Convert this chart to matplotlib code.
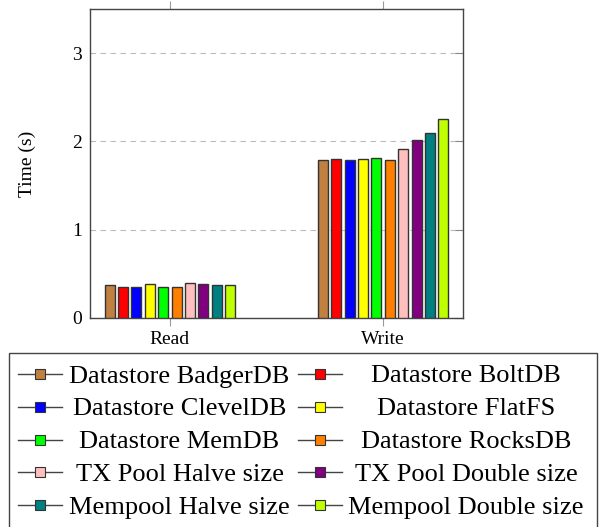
import matplotlib.pyplot as plt
import numpy as np
from matplotlib.lines import Line2D
from matplotlib.patches import Rectangle

plt.rcParams['font.family'] = ['Liberation Serif', 'DejaVu Serif']

# data
groups = ['Read', 'Write']
series = ['Datastore BadgerDB', 'Datastore BoltDB', 'Datastore ClevelDB',
          'Datastore FlatFS', 'Datastore MemDB', 'Datastore RocksDB',
          'TX Pool Halve size', 'TX Pool Double size',
          'Mempool Halve size', 'Mempool Double size']
read_times = [0.373, 0.354, 0.354, 0.384, 0.350, 0.354, 0.395, 0.384, 0.373, 0.373]
write_times = [1.793, 1.800, 1.793, 1.800, 1.815, 1.793, 1.913, 2.015, 2.094, 2.252]
colors = ['#BF8040', '#FF0000', '#0000FF', '#FFFF00', '#00FF00',
          '#FF8000', '#FFBFBF', '#800080', '#008080', '#BFFF00']

W, H = 599, 527
fig = plt.figure(figsize=(W / 100, H / 100), dpi=100)
ax = fig.add_axes([90 / W, 1 - 318 / H, (463 - 90) / W, (318 - 9) / H])

x = np.arange(len(groups))
step = 0.0628
width = 0.047
n = len(series)
for i, name in enumerate(series):
    offs = (i - (n - 1) / 2) * step
    ax.bar(x + offs, [read_times[i], write_times[i]], width=width,
           color=colors[i], edgecolor='#333333', linewidth=1.0, zorder=3)

ax.set_xlim(-0.375, 1.375)
ax.set_ylim(0, 3.5)
ax.set_xticks(x)
ax.set_xticklabels(groups, fontsize=14)
ax.set_yticks([0, 1, 2, 3])
ax.set_yticklabels(['0', '1', '2', '3'], fontsize=14)
ax.set_ylabel('Time (s)', fontsize=14, labelpad=26)

ax.yaxis.grid(True, linestyle=(0, (5, 4)), color='#BBBBBB', linewidth=0.8, zorder=0)
ax.tick_params(axis='x', direction='out', length=6, color='#999999',
               top=True, bottom=True, pad=3)
ax.tick_params(axis='y', direction='in', length=6, color='#888888',
               left=False, right=True, pad=6)
for sp in ax.spines.values():
    sp.set_color('#444444')
    sp.set_linewidth(1.0)

# legend drawn below the axes, two columns with centred text
def fx(px):
    return px / W

def fy(py):
    return 1 - py / H

fig.add_artist(Rectangle((fx(9), fy(540)), fx(597) - fx(9), fy(353) - fy(540),
                         transform=fig.transFigure, facecolor='white',
                         edgecolor='#444444', linewidth=1.0))
line_x = [(18, 62), (298, 342)]
text_cx = [179.5, 466]
for i, name in enumerate(series):
    col = i % 2
    row = i // 2
    yc = 374 + row * 32.8
    x0, x1 = line_x[col]
    fig.add_artist(Line2D([fx(x0), fx(x1)], [fy(yc), fy(yc)],
                          transform=fig.transFigure, color='#444444', linewidth=1.0))
    fig.add_artist(Line2D([fx((x0 + x1) / 2)], [fy(yc)], transform=fig.transFigure,
                          marker='s', markersize=7.5, markerfacecolor=colors[i],
                          markeredgecolor='#333333', markeredgewidth=0.8,
                          linestyle='none'))
    fig.text(fx(text_cx[col]), fy(yc + 8.5), name, fontsize=19,
             ha='center', va='baseline')

fig.savefig('out.png', dpi=100)
